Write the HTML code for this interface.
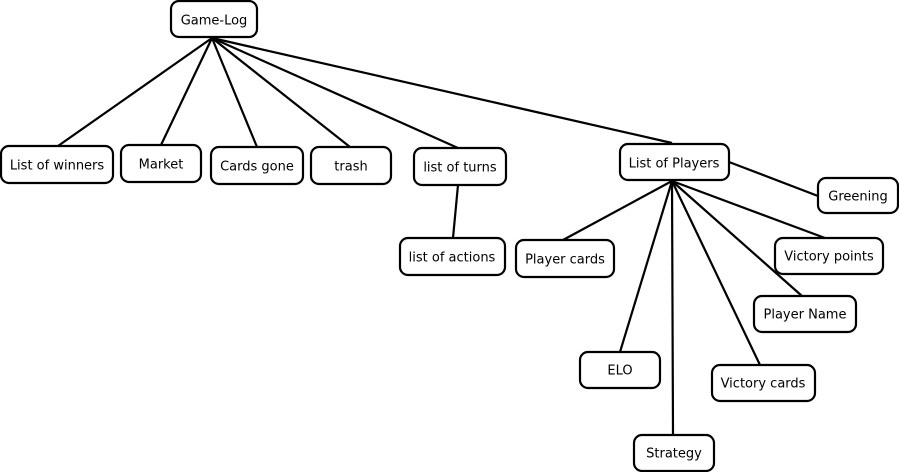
<!DOCTYPE html>
<html><head><meta charset="utf-8"><style>
html,body{margin:0;padding:0;background:#fff;}
svg{display:block}
text{font-family:"DejaVu Sans","Liberation Sans",sans-serif;font-size:13px;fill:#000;text-anchor:middle;dominant-baseline:central}
rect{fill:#fff;stroke:#000;stroke-width:2.2}
line{stroke:#000;stroke-width:2.2}
</style></head><body>
<svg width="899" height="472" viewBox="0 0 899 472" xmlns="http://www.w3.org/2000/svg">
<line x1="212" y1="38" x2="58" y2="146"/>
<line x1="212" y1="38" x2="161" y2="145"/>
<line x1="212" y1="38" x2="257" y2="147"/>
<line x1="212" y1="38" x2="350" y2="147"/>
<line x1="212" y1="38" x2="458" y2="148"/>
<line x1="212" y1="38" x2="672" y2="143"/>
<line x1="458" y1="185" x2="453" y2="238"/>
<line x1="729" y1="162" x2="818" y2="196"/>
<line x1="672" y1="181" x2="563" y2="240"/>
<line x1="672" y1="181" x2="825" y2="238"/>
<line x1="672" y1="181" x2="802" y2="296"/>
<line x1="672" y1="181" x2="620" y2="352"/>
<line x1="672" y1="181" x2="760" y2="365"/>
<line x1="672" y1="181" x2="673" y2="435"/>
<rect x="171" y="1" width="86" height="36" rx="8"/>
<rect x="1" y="146" width="112" height="37" rx="8"/>
<rect x="121" y="145" width="80" height="37" rx="8"/>
<rect x="211" y="147" width="92" height="37" rx="8"/>
<rect x="311" y="147" width="80" height="37" rx="8"/>
<rect x="414" y="148" width="92" height="37" rx="8"/>
<rect x="400" y="238" width="105" height="37" rx="8"/>
<rect x="620" y="144" width="109" height="36" rx="8"/>
<rect x="818" y="178" width="80" height="35" rx="8"/>
<rect x="516" y="240" width="98" height="37" rx="8"/>
<rect x="775" y="238" width="108" height="36" rx="8"/>
<rect x="754" y="296" width="102" height="36" rx="8"/>
<rect x="580" y="352" width="80" height="36" rx="8"/>
<rect x="712" y="365" width="103" height="36" rx="8"/>
<rect x="634" y="435" width="80" height="36" rx="8"/>
<g transform="translate(0,2)">
<text x="214" y="19">Game-Log</text>
<text x="57" y="164">List of winners</text>
<text x="161" y="163">Market</text>
<text x="257" y="165">Cards gone</text>
<text x="351" y="165">trash</text>
<text x="460" y="166">list of turns</text>
<text x="452" y="256">list of actions</text>
<text x="674" y="162">List of Players</text>
<text x="858" y="195">Greening</text>
<text x="565" y="258">Player cards</text>
<text x="829" y="255">Victory points</text>
<text x="805" y="313">Player Name</text>
<text x="620" y="369">ELO</text>
<text x="763" y="382">Victory cards</text>
<text x="674" y="452">Strategy</text>
</g>
</svg>
</body></html>
